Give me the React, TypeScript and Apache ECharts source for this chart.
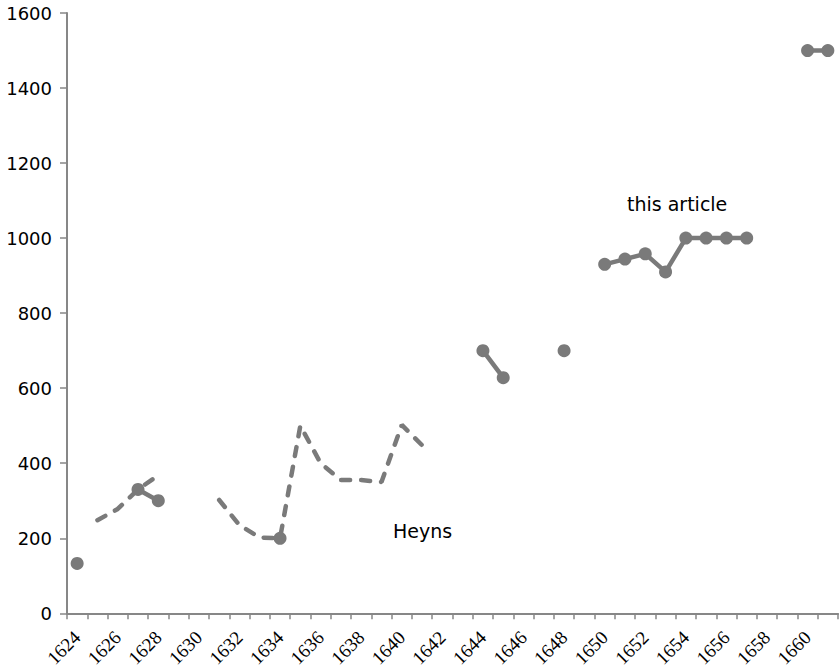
import React, { useEffect, useRef } from "react";
import * as echarts from "echarts";

const years: string[] = [];
for (let y = 1624; y <= 1661; y++) years.push(String(y));

// value per year, 1624..1661 (null = no data)
const heyns: (number | null)[] = [
  null, 248, 278, 330, 368, null, null, 302, 235, 202,
  200, 500, 400, 355, 355, 350, 502, 448, null, null,
  null, null, null, null, null, null, null, null, null, null,
  null, null, null, null, null, null, null, null,
];

const thisArticle: (number | null)[] = [
  133, null, null, 330, 300, null, null, null, null, null,
  200, null, null, null, null, null, null, null, null, null,
  700, 628, null, null, 700, null, 930, 944, 958, 910,
  1000, 1000, 1000, 1000, null, null, 1500, 1500,
];

const yTicks = { min: 0, max: 1600, interval: 200 };

const GREY = "#7a7a7a";
const AXIS = "#878787";

export default function App() {
  const ref = useRef<HTMLDivElement>(null);
  useEffect(() => {
    if (!ref.current) return;
    const chart = echarts.init(ref.current, undefined, { renderer: "svg" });
    chart.setOption({
      animation: false,
      backgroundColor: "#ffffff",
      grid: { left: 67, right: 1, top: 13, bottom: 55, containLabel: false },
      xAxis: {
        type: "category",
        data: years,
        boundaryGap: true,
        axisLine: { lineStyle: { color: AXIS, width: 2 } },
        axisTick: { show: true, length: 6, interval: 0, lineStyle: { color: AXIS, width: 1.5 } },
        axisLabel: {
          interval: 1,
          rotate: 45,
          margin: 21,
          color: "#000",
          fontFamily: "Liberation Serif",
          fontSize: 19,
        },
        splitLine: { show: false },
      },
      yAxis: {
        type: "value",
        min: yTicks.min,
        max: yTicks.max,
        interval: yTicks.interval,
        axisLine: { show: true, lineStyle: { color: AXIS, width: 2 } },
        axisTick: { show: true, length: 7, lineStyle: { color: AXIS, width: 1.5 } },
        axisLabel: {
          margin: 15,
          color: "#000",
          fontFamily: "DejaVu Sans",
          fontSize: 18,
          formatter: (v: number) => String(v),
        },
        splitLine: { show: false },
      },
      series: [
        {
          name: "Heyns",
          type: "line",
          data: heyns,
          showSymbol: false,
          connectNulls: false,
          lineStyle: { color: GREY, width: 4.5, type: [9, 11], cap: "round" },
          itemStyle: { color: GREY },
          z: 2,
        },
        {
          name: "this article",
          type: "line",
          data: thisArticle,
          showSymbol: true,
          showAllSymbol: true,
          symbol: "circle",
          symbolSize: 13,
          connectNulls: false,
          lineStyle: { color: GREY, width: 4.5 },
          itemStyle: { color: GREY },
          z: 3,
        },
      ],
      graphic: [
        {
          type: "text",
          left: 627,
          top: 194,
          style: { text: "this article", fill: "#000", font: "19px 'DejaVu Sans'" },
        },
        {
          type: "text",
          left: 393,
          top: 521,
          style: { text: "Heyns", fill: "#000", font: "19px 'DejaVu Sans'" },
        },
      ],
    });
    return () => chart.dispose();
  }, []);
  return (
    <div
      ref={ref}
      style={{ position: "fixed", left: 0, top: 0, width: 839, height: 670, background: "#fff" }}
    />
  );
}
